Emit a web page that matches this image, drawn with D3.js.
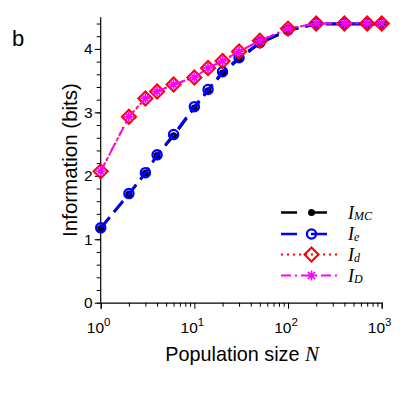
<!DOCTYPE html>
<html>
<head>
<meta charset="utf-8">
<script src="https://cdn.jsdelivr.net/npm/d3@7"></script>
<style>
  body { margin: 0; background: #fff; }
  text { font-family: "Liberation Sans", Arial, sans-serif; }
  .serif { font-family: "Liberation Serif", "Times New Roman", serif; font-style: italic; }
</style>
</head>
<body>
<div id="chart"></div>
<script>
'use strict';

// population sizes
var popSizes = [1, 2, 3, 4, 6, 10, 14, 20, 30, 50, 100, 200, 400, 700, 1000];

// information values (bits)
var infoMC = [1.17, 1.71, 2.04, 2.32, 2.63, 3.07, 3.34, 3.62, 3.84, 4.09, 4.29, 4.39, 4.39, 4.39, 4.39];
var infoE  = [1.18, 1.72, 2.05, 2.33, 2.65, 3.09, 3.36, 3.64, 3.86, 4.10, 4.30, 4.40, 4.40, 4.40, 4.40];
var infoD  = [2.07, 2.93, 3.22, 3.33, 3.44, 3.55, 3.70, 3.81, 3.96, 4.13, 4.32, 4.40, 4.40, 4.40, 4.40];
var infoDD = [2.07, 2.93, 3.22, 3.33, 3.44, 3.55, 3.70, 3.81, 3.96, 4.13, 4.32, 4.40, 4.40, 4.40, 4.40];

var xTickExps = [0, 1, 2, 3];
var yTicks = [0, 1, 2, 3, 4];

var width = 405, height = 405;
var area = { left: 100.7, right: 381.7, top: 17.2, bottom: 302.7 };

var svg = d3.select('#chart').append('svg')
  .attr('width', width)
  .attr('height', height);

var x = d3.scaleLog()
  .domain([1, 1000])
  .range([area.left, area.right]);

var y = d3.scaleLinear()
  .domain([0, 4.5])
  .range([area.bottom, area.top]);

// panel letter
svg.append('text')
  .attr('x', 12).attr('y', 46)
  .attr('font-size', 22)
  .text('b');

//
// axes
//
var minorX = [];
[1, 10, 100].forEach(function(d) {
  for (var k = 2; k <= 9; k++) minorX.push(d * k);
});

var xAxis = d3.axisBottom(x)
  .tickValues(xTickExps.map(function(e) { return Math.pow(10, e); }))
  .tickSize(6)
  .tickFormat('');

svg.append('g')
  .attr('transform', 'translate(0,' + area.bottom + ')')
  .call(xAxis)
  .call(function(g) { g.select('.domain').attr('stroke-width', 1.2); });

svg.append('g')
  .attr('transform', 'translate(0,' + area.bottom + ')')
  .call(d3.axisBottom(x).tickValues(minorX).tickSize(4).tickFormat(''))
  .call(function(g) { g.select('.domain').remove(); });

var xLab = svg.append('g').selectAll('text')
  .data(xTickExps)
  .enter().append('text')
    .attr('x', function(d) { return x(Math.pow(10, d)) - 2; })
    .attr('y', area.bottom + 30)
    .attr('text-anchor', 'middle')
    .attr('font-size', 15.5);
xLab.append('tspan').text('10');
xLab.append('tspan')
  .attr('font-size', 11.5)
  .attr('dy', -7)
  .text(function(d) { return d; });

var yMinor = d3.range(0, 4.51, 0.2);

svg.append('g')
  .attr('transform', 'translate(' + area.left + ',0)')
  .call(d3.axisLeft(y).tickValues(yTicks).tickSize(6).tickFormat(d3.format('d')))
  .call(function(g) {
    g.select('.domain').attr('d', 'M0,' + area.bottom + 'V' + area.top).attr('stroke-width', 1.2);
    g.selectAll('text').attr('font-size', 15.5).attr('x', -8).attr('fill', '#000')
      .attr('font-family', '"Liberation Sans", Arial, sans-serif');
  });

svg.append('g')
  .attr('transform', 'translate(' + area.left + ',0)')
  .call(d3.axisLeft(y).tickValues(yMinor).tickSize(4).tickFormat(''))
  .call(function(g) { g.select('.domain').remove(); });

// axis titles
svg.append('text')
  .attr('transform', 'translate(77,160) rotate(-90)')
  .attr('text-anchor', 'middle')
  .attr('font-size', 20.5)
  .text('Information (bits)');

var xt = svg.append('text')
  .attr('x', (area.left + area.right) / 2 + 1)
  .attr('y', 361)
  .attr('text-anchor', 'middle')
  .attr('font-size', 19.8);
xt.append('tspan').text('Population size ');
xt.append('tspan').attr('class', 'serif').attr('font-size', 21).text('N');

//
// series
//
var series = [
  { id: 'MC', values: infoMC, color: '#000', dash: '14,7', width: 2.6, marker: 'dot' },
  { id: 'e',  values: infoE,  color: '#0000ff', dash: '14,7', width: 2.6, marker: 'circle' },
  { id: 'd',  values: infoD,  color: '#ff0000', dash: '2,4', width: 2, marker: 'diamond' },
  { id: 'D',  values: infoDD, color: '#ff00ff', dash: '10,4,2,4', width: 2, marker: 'star' }
];

var lineGen = d3.line()
  .x(function(d) { return x(d.n); })
  .y(function(d) { return y(d.v); });

function drawMarker(g, type, color) {
  if (type === 'dot') {
    g.append('circle').attr('r', 3.5).attr('fill', color);
  } else if (type === 'circle') {
    g.append('circle').attr('r', 4.6).attr('fill', 'none')
      .attr('stroke', color).attr('stroke-width', 2.3);
  } else if (type === 'diamond') {
    g.append('path').attr('d', 'M0,-7L7,0L0,7L-7,0Z')
      .attr('fill', 'none').attr('stroke', color).attr('stroke-width', 2.1);
  } else if (type === 'star') {
    g.append('path').attr('d', 'M0,-5V5M-5,0H5M-3.6,-3.6L3.6,3.6M-3.6,3.6L3.6,-3.6')
      .attr('stroke', color).attr('stroke-width', 1.7);
  }
}

series.forEach(function(s) {
  var pts = popSizes.map(function(n, i) { return { n: n, v: s.values[i] }; });
  var g = svg.append('g').attr('class', 'series-' + s.id);

  g.append('path')
    .attr('d', lineGen(pts))
    .attr('fill', 'none')
    .attr('stroke', s.color)
    .attr('stroke-width', s.width)
    .attr('stroke-dasharray', s.dash);

  g.selectAll('.pt')
    .data(pts)
    .enter().append('g')
      .attr('class', 'pt')
      .attr('transform', function(d) { return 'translate(' + x(d.n) + ',' + y(d.v) + ')'; })
      .each(function() { drawMarker(d3.select(this), s.marker, s.color); });
});

//
// legend
//
var legRows = [212.5, 234, 254.5, 275.5];
var legSub = ['MC', 'e', 'd', 'D'];

series.forEach(function(s, i) {
  var g = svg.append('g').attr('transform', 'translate(0,' + legRows[i] + ')');
  g.append('line')
    .attr('x1', 281).attr('x2', 341)
    .attr('stroke', s.color)
    .attr('stroke-width', s.width)
    .attr('stroke-dasharray', s.id === 'd' ? '2,4' : (s.id === 'D' ? '10,4,2,4' : '16,14'));
  var m = g.append('g').attr('transform', 'translate(311.5,0)');
  drawMarker(m, s.marker, s.color);

  var t = g.append('text')
    .attr('class', 'serif')
    .attr('x', 348)
    .attr('y', 6)
    .attr('font-size', 18);
  t.append('tspan').text('I');
  t.append('tspan').attr('font-size', 12).attr('dy', 1).text(legSub[i]);
});
</script>
</body>
</html>
